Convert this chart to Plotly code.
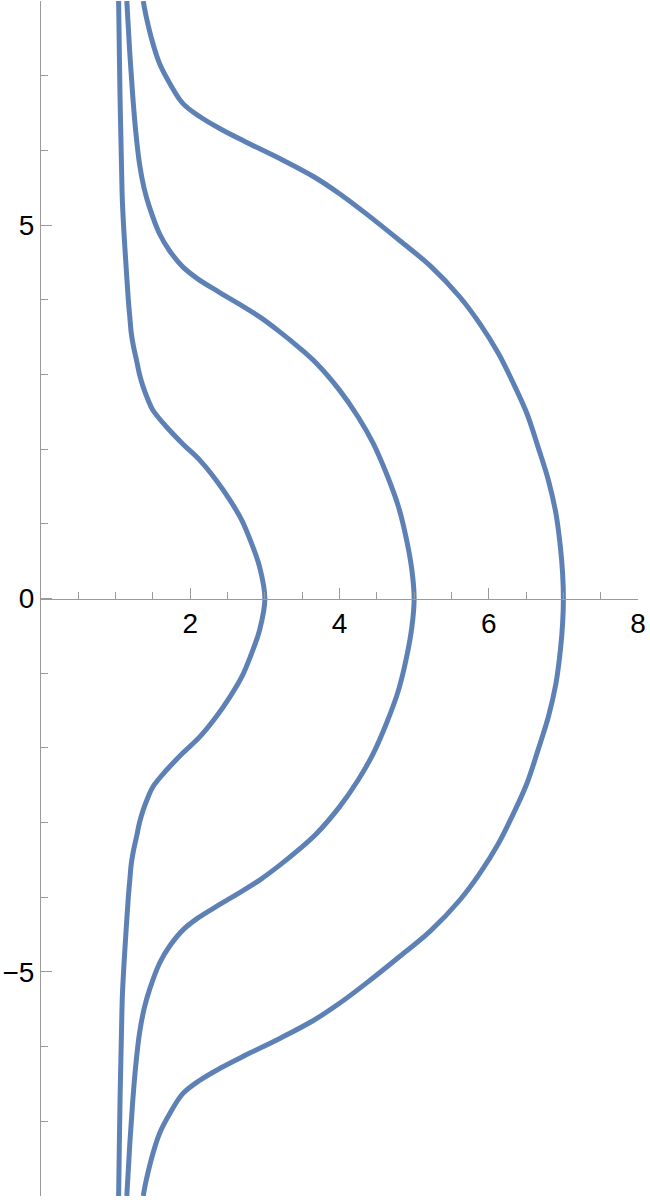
import plotly.graph_objects as go

# inner curve (crosses the x axis at 3)
inner_y = [8.0, 7.3, 6.67, 6.2, 5.73, 5.33, 4.93, 4.45, 4.0, 3.77, 3.55, 3.37, 3.19, 3.0, 2.83, 2.67, 2.52, 2.30,
           2.07, 1.85, 1.58, 1.32, 1.05, 0.74, 0.42, 0.0,
           -0.42, -0.74, -1.05, -1.32, -1.58, -1.85, -2.07, -2.30, -2.52, -2.67, -2.83, -3.0, -3.19, -3.37, -3.55,
           -3.77, -4.0, -4.45, -4.93, -5.33, -5.73, -6.2, -6.67, -7.3, -8.0]
inner_x = [1.04, 1.05, 1.06, 1.07, 1.08, 1.09, 1.11, 1.14, 1.17, 1.19, 1.21, 1.24, 1.28, 1.32, 1.37, 1.43, 1.50, 1.68,
           1.90, 2.13, 2.35, 2.53, 2.69, 2.82, 2.93, 3.0,
           2.93, 2.82, 2.69, 2.53, 2.35, 2.13, 1.90, 1.68, 1.50, 1.43, 1.37, 1.32, 1.28, 1.24, 1.21,
           1.19, 1.17, 1.14, 1.11, 1.09, 1.08, 1.07, 1.06, 1.05, 1.04]

# middle curve (crosses at 5)
middle_y = [8.0, 7.3, 6.72, 6.25, 5.82, 5.5, 5.25, 4.88, 4.66, 4.44, 4.28, 4.10, 3.95, 3.77, 3.57, 3.35, 3.15, 2.79,
            2.43, 2.08, 1.67, 1.23, 0.78, 0.38, 0.0,
            -0.38, -0.78, -1.23, -1.67, -2.08, -2.43, -2.79, -3.15, -3.35, -3.57, -3.77, -3.95, -4.10, -4.28, -4.44,
            -4.66, -4.88, -5.25, -5.5, -5.82, -6.25, -6.72, -7.3, -8.0]
middle_x = [1.15, 1.19, 1.23, 1.27, 1.32, 1.38, 1.45, 1.59, 1.72, 1.90, 2.10, 2.39, 2.64, 2.93, 3.20, 3.47, 3.69, 4.0,
            4.25, 4.45, 4.63, 4.79, 4.90, 4.97, 5.0,
            4.97, 4.90, 4.79, 4.63, 4.45, 4.25, 4.0, 3.69, 3.47, 3.20, 2.93, 2.64, 2.39, 2.10, 1.90,
            1.72, 1.59, 1.45, 1.38, 1.32, 1.27, 1.23, 1.19, 1.15]

# outer curve (crosses at 7)
outer_y = [8.0, 7.79, 7.43, 7.16, 6.89, 6.63, 6.45, 6.29, 6.11, 5.89, 5.65, 5.42, 5.15, 4.79, 4.45, 4.04, 3.68, 3.28,
           2.88, 2.48, 2.03, 1.58, 1.14, 0.69, 0.33, 0.0,
           -0.33, -0.69, -1.14, -1.58, -2.03, -2.48, -2.88, -3.28, -3.68, -4.04, -4.45, -4.79, -5.15, -5.42, -5.65,
           -5.89, -6.11, -6.29, -6.45, -6.63, -6.89, -7.16, -7.43, -7.79, -8.0]
outer_x = [1.37, 1.41, 1.50, 1.59, 1.73, 1.90, 2.13, 2.40, 2.75, 3.20, 3.65, 4.0, 4.36, 4.81, 5.22, 5.61, 5.88, 6.13,
           6.33, 6.51, 6.66, 6.80, 6.90, 6.96, 6.99, 7.0,
           6.99, 6.96, 6.90, 6.80, 6.66, 6.51, 6.33, 6.13, 5.88, 5.61, 5.22, 4.81, 4.36, 4.0, 3.65,
           3.20, 2.75, 2.40, 2.13, 1.90, 1.73, 1.59, 1.50, 1.41, 1.37]

x_ticks = [2, 4, 6, 8]
y_ticks = [-5, 0, 5]
y_labels = ['\u22125', '0', '5']

line_color = '#5E81B5'
axis_color = '#9a9a9a'

fig = go.Figure()
for xs, ys in [(inner_x, inner_y), (middle_x, middle_y), (outer_x, outer_y)]:
    fig.add_trace(go.Scatter(
        x=xs, y=ys, mode='lines',
        line=dict(color=line_color, width=5, shape='spline', smoothing=1.0),
        showlegend=False, hoverinfo='skip'
    ))

tick_font = dict(family='Liberation Sans, Arial', size=28, color='black')

fig.update_layout(
    width=650, height=1200,
    paper_bgcolor='white', plot_bgcolor='white',
    margin=dict(l=41, r=12, t=1, b=4),
    xaxis=dict(
        range=[0, 8], anchor='free', position=0.5, automargin=False,
        tickmode='array', tickvals=x_ticks,
        ticks='inside', ticklen=11, tickcolor=axis_color, tickwidth=1,
        minor=dict(dtick=0.5, tick0=0, ticks='inside', ticklen=7, tickcolor=axis_color),
        showline=True, linecolor=axis_color, linewidth=1,
        showgrid=False, zeroline=False, tickfont=tick_font
    ),
    yaxis=dict(
        range=[-8, 8], automargin=False,
        tickmode='array', tickvals=y_ticks, ticktext=y_labels,
        ticks='inside', ticklen=11, tickcolor=axis_color, tickwidth=1,
        minor=dict(dtick=1, tick0=0, ticks='inside', ticklen=7, tickcolor=axis_color),
        showline=True, linecolor=axis_color, linewidth=1,
        showgrid=False, zeroline=False, tickfont=tick_font
    ),
)

# the page's default body margin would shift the figure by 8px
fig.write_html("out.html", config={'displayModeBar': False},
               post_script="document.body.style.margin = '0';")
